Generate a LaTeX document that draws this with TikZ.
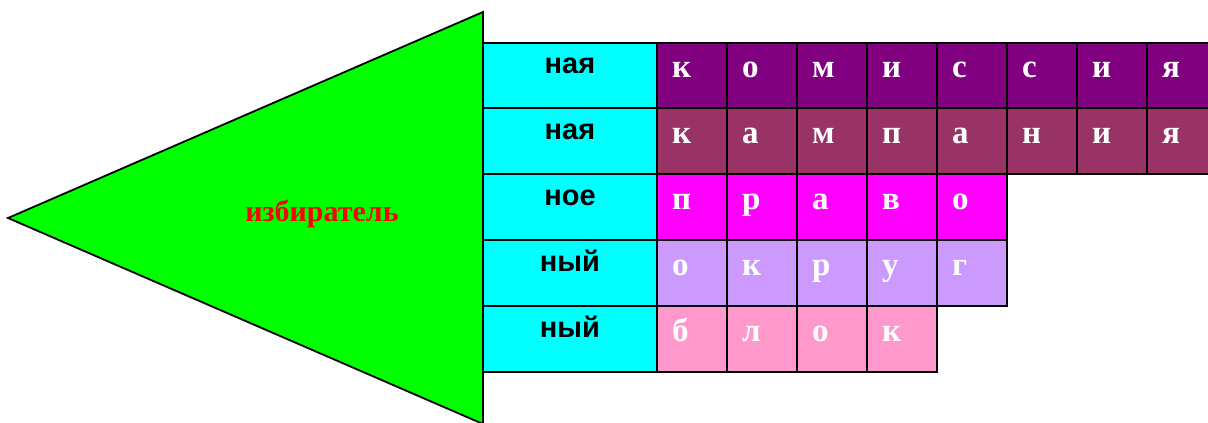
\documentclass[tikz,border=0pt]{standalone}
\usepackage{fontspec}
\setmainfont{Liberation Serif}
\newfontfamily\endingfont{Liberation Sans}
\usetikzlibrary{positioning}
\definecolor{arrow green}{RGB}{0,255,0}
\definecolor{ending cyan}{RGB}{0,255,255}
\definecolor{row purple}{RGB}{128,0,128}
\definecolor{row plum}{RGB}{153,51,102}
\definecolor{row magenta}{RGB}{255,0,255}
\definecolor{row lilac}{RGB}{204,153,255}
\definecolor{row pink}{RGB}{255,153,204}

\begin{document}
\begin{tikzpicture}[x=1pt, y=-1pt,
		cell/.style={draw, line width=2pt, minimum width=70pt, minimum height=65.9pt,
			inner sep=0pt, outer sep=0pt, anchor=north west},
		endcell/.style={cell, fill=ending cyan, minimum width=174pt},
		letter/.style={text=white, font=\fontsize{33}{33}\selectfont\bfseries,
			anchor=base west, inner sep=0pt},
		ending/.style={font=\endingfont\fontsize{29}{29}\selectfont\bfseries,
			anchor=base, inner sep=0pt}]
			\useasboundingbox (0, 0) rectangle (1208, 423);
			\clip (0, 0) rectangle (1208, 423);
			% arrow head
			\draw[fill=arrow green, line width=1.8pt] (483, 12) -- (8, 218) -- (483, 424) -- cycle;
			\node[text=red, font=\fontsize{30}{30}\selectfont\bfseries, inner sep=0pt] (voter) at (322, 214) {избиратель};
			% rows of the table
			\foreach \word/\suffix/\col [count=\r] in {
					{к,о,м,и,с,с,и,я}/ная/row purple,
					{к,а,м,п,а,н,и,я}/ная/row plum,
					{п,р,а,в,о}/ное/row magenta,
					{о,к,р,у,г}/ный/row lilac,
					{б,л,о,к}/ный/row pink} {
				\node[endcell] (end\r) at (483, {42.5 + 65.9*(\r-1)}) {};
				\node[ending] (suffix\r) at ([shift={(0, 31)}]end\r.north) {\suffix};
				\foreach \ch [count=\c] in \word {
					\node[cell, fill=\col] (c\r-\c) at ({657 + 70*(\c-1)}, {42.5 + 65.9*(\r-1)}) {};
					\node[letter] (l\r-\c) at ([shift={(15, 35)}]c\r-\c.north west) {\ch};
				}
			}
		\end{tikzpicture}
\end{document}
